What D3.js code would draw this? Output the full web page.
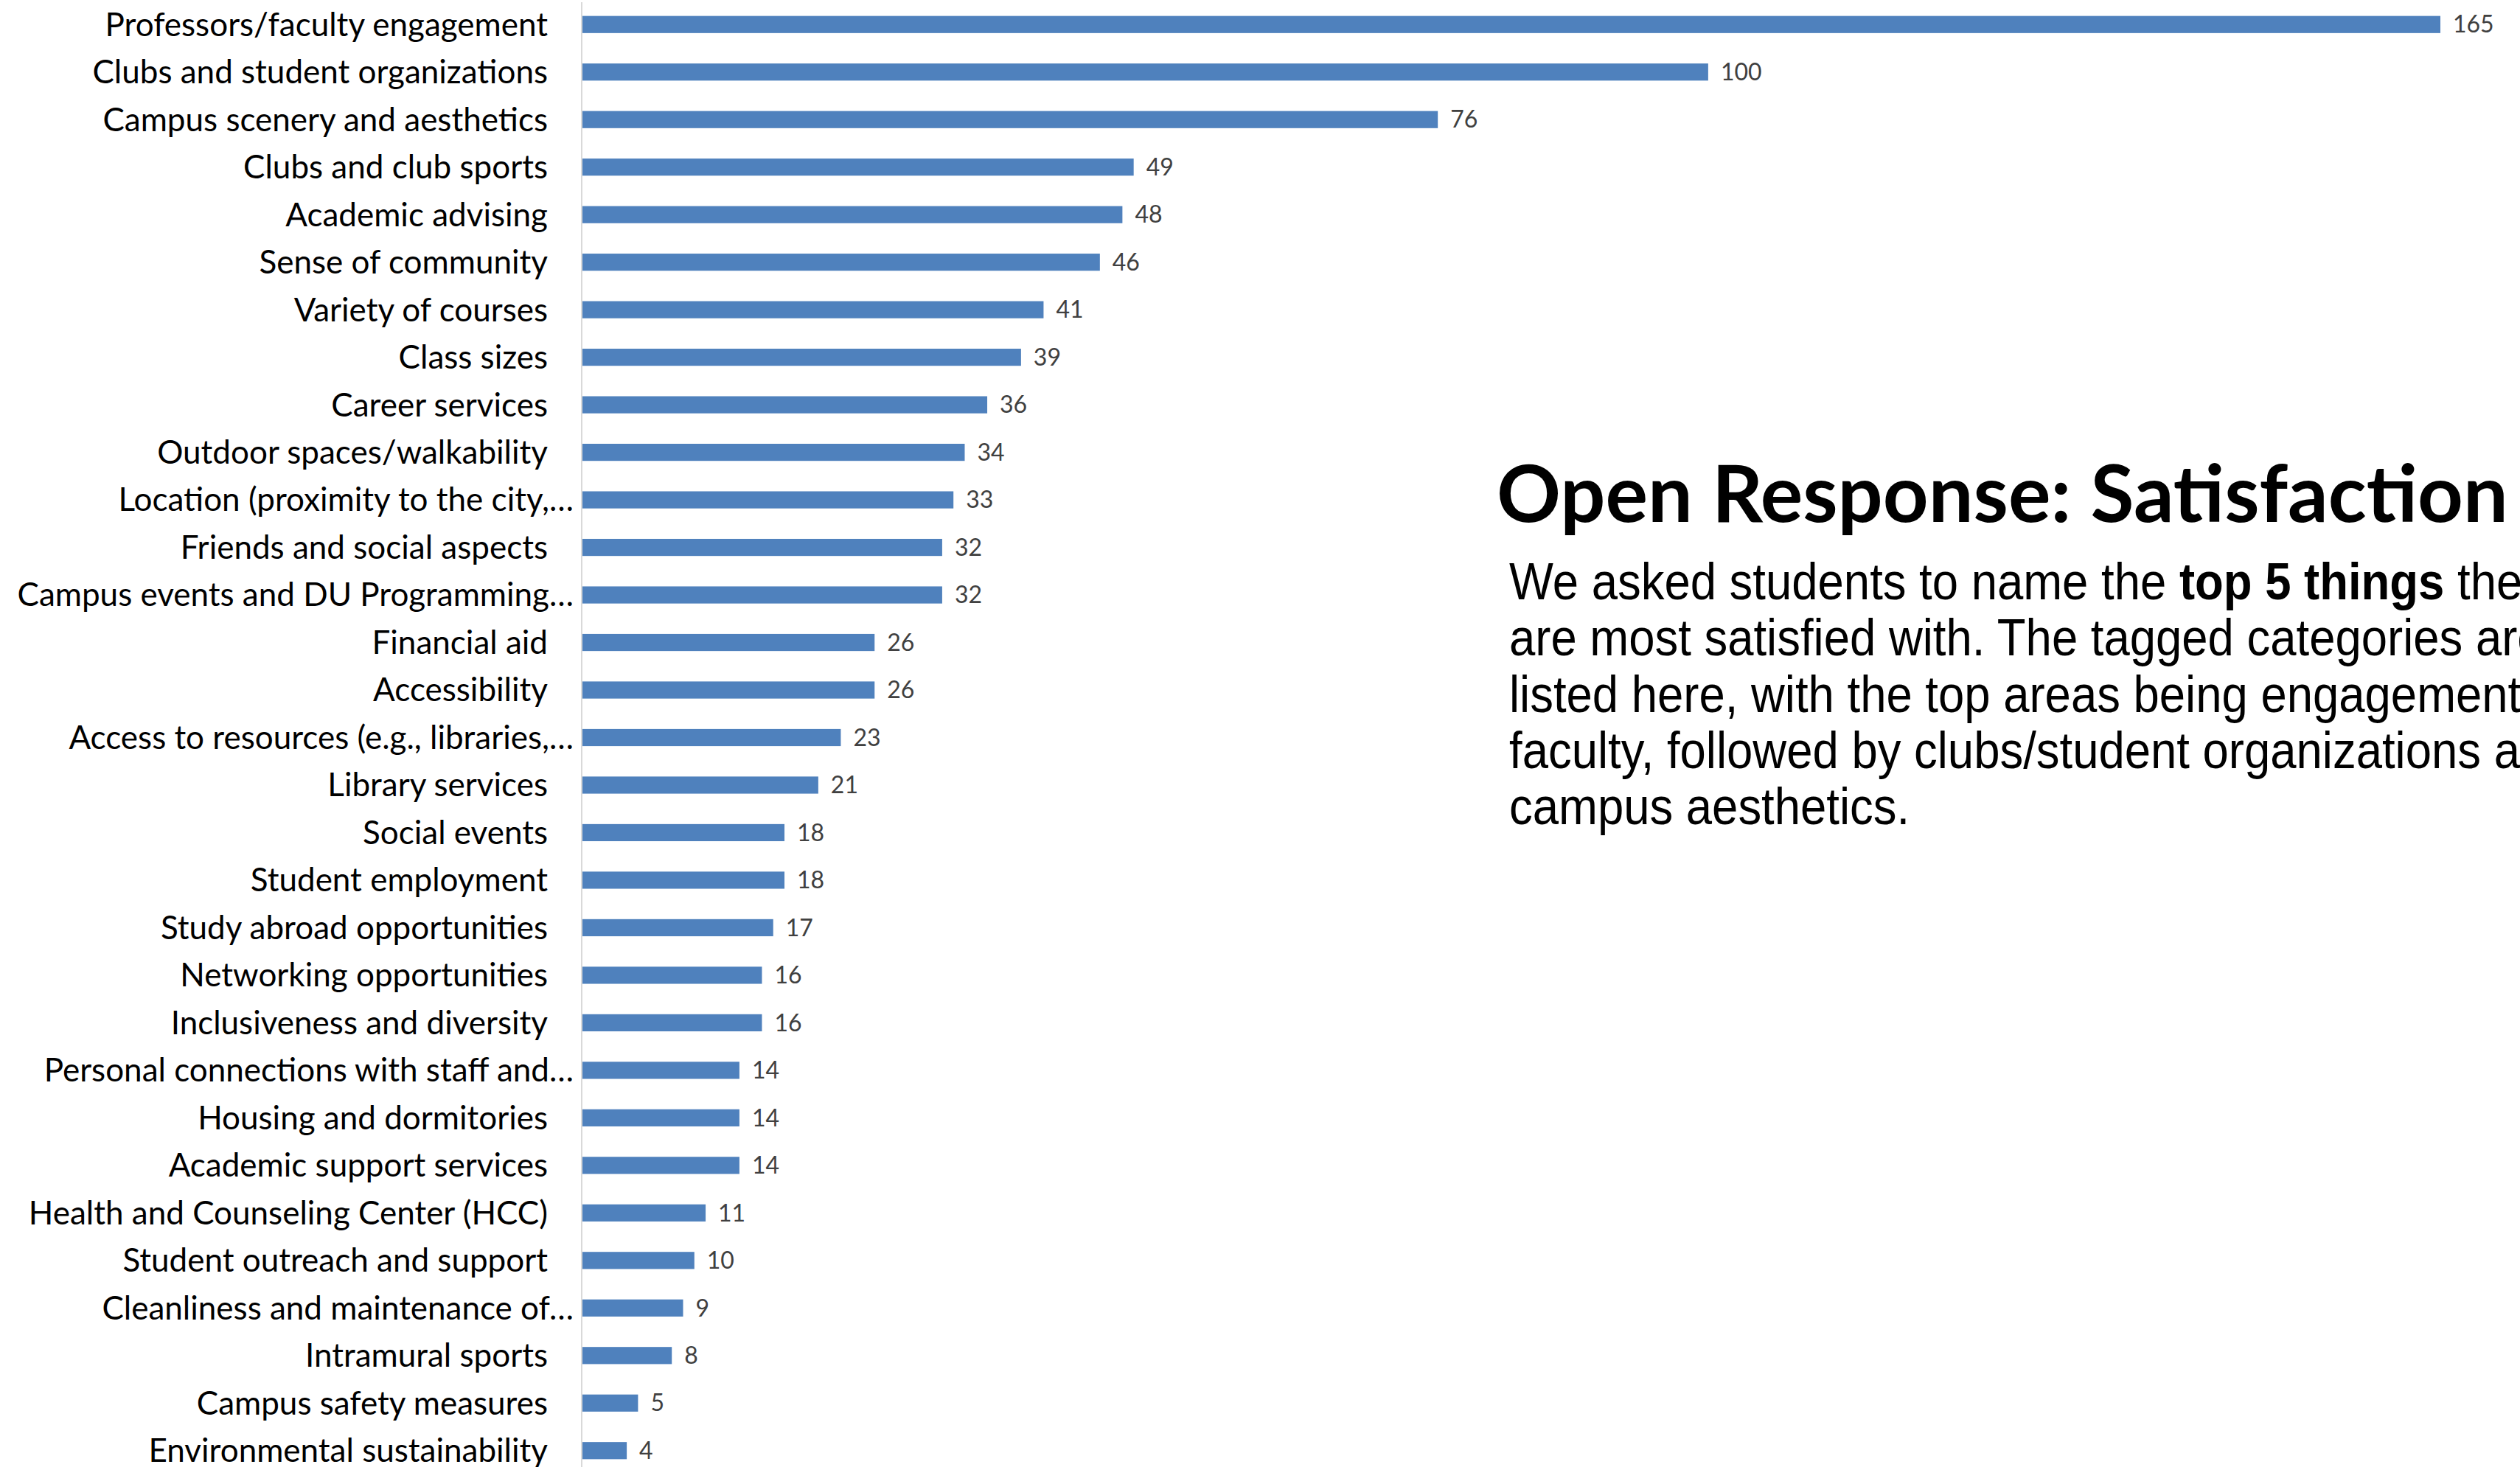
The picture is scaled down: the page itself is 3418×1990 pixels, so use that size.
<!DOCTYPE html>
<html>
<head>
<meta charset="utf-8">
<script src="https://cdn.jsdelivr.net/npm/d3@7"></script>
<style>
  body { margin: 0; background: #fff; overflow: hidden; }
  svg { display: block; }
</style>
</head>
<body>
<div id="chart"></div>
<script>
// categories, top to bottom
var categories = [
  "Professors/faculty engagement",
  "Clubs and student organizations",
  "Campus scenery and aesthetics",
  "Clubs and club sports",
  "Academic advising",
  "Sense of community",
  "Variety of courses",
  "Class sizes",
  "Career services",
  "Outdoor spaces/walkability",
  "Location (proximity to the city,…",
  "Friends and social aspects",
  "Campus events and DU Programming…",
  "Financial aid",
  "Accessibility",
  "Access to resources (e.g., libraries,…",
  "Library services",
  "Social events",
  "Student employment",
  "Study abroad opportunities",
  "Networking opportunities",
  "Inclusiveness and diversity",
  "Personal connections with staff and…",
  "Housing and dormitories",
  "Academic support services",
  "Health and Counseling Center (HCC)",
  "Student outreach and support",
  "Cleanliness and maintenance of…",
  "Intramural sports",
  "Campus safety measures",
  "Environmental sustainability"
];
var counts = [165, 100, 76, 49, 48, 46, 41, 39, 36, 34, 33, 32, 32, 26, 26, 23, 21, 18, 18, 17, 16, 16, 14, 14, 14, 11, 10, 9, 8, 5, 4];

var titleText = "Open Response: Satisfaction";
var bodyLines = [
  [["We asked students to name the ", false], ["top 5 things", true], [" they", false]],
  [["are most satisfied with. The tagged categories are", false]],
  [["listed here, with the top areas being engagement with", false]],
  [["faculty, followed by clubs/student organizations and", false]],
  [["campus aesthetics.", false]]
];

var svgWidth = 3418;
var svgHeight = 1990;

var svg = d3.select("#chart")
  .append("svg")
  .attr("width", svgWidth)
  .attr("height", svgHeight);

var data = categories.map(function (c, i) { return { name: c, value: counts[i] }; });

// scales
var xScale = d3.scaleLinear()
  .domain([0, 165])
  .range([789, 3310]);

var yScale = d3.scaleBand()
  .domain(categories)
  .range([1, 2000])
  .paddingInner(0.64)
  .paddingOuter(0.32);

// bars
svg.append("g")
  .selectAll("rect")
  .data(data)
  .enter()
  .append("rect")
  .attr("x", xScale(0))
  .attr("y", d => yScale(d.name))
  .attr("width", d => xScale(d.value) - xScale(0))
  .attr("height", yScale.bandwidth())
  .attr("fill", "#4f81bd");

// vertical axis line
svg.append("line")
  .attr("x1", xScale(0)).attr("x2", xScale(0))
  .attr("y1", 3).attr("y2", svgHeight)
  .attr("stroke", "#d9d9d9")
  .attr("stroke-width", 2);

// category labels (Excel truncated ones sit closer to the axis)
svg.append("g")
  .selectAll("text")
  .data(data)
  .enter()
  .append("text")
  .attr("x", d => d.name.endsWith("…") ? xScale(0) - 11 : xScale(0) - 46)
  .attr("y", d => yScale(d.name) + yScale.bandwidth() / 2)
  .attr("dy", "0.35em")
  .attr("text-anchor", "end")
  .style("font-family", "Lato, 'Open Sans', sans-serif")
  .style("font-size", "44px")
  .style("fill", "#000")
  .text(d => d.name);

// value labels
svg.append("g")
  .selectAll("text")
  .data(data)
  .enter()
  .append("text")
  .attr("x", d => xScale(d.value) + 17)
  .attr("y", d => yScale(d.name) + yScale.bandwidth() / 2)
  .attr("dy", "0.35em")
  .style("font-family", "Lato, 'Open Sans', sans-serif")
  .style("font-size", "32px")
  .style("fill", "#404040")
  .text(d => d.value);

// title, sized to the reference width
var title = svg.append("text")
  .attr("x", 2030)
  .attr("y", 708)
  .style("font-family", "Lato, 'DejaVu Sans', sans-serif")
  .style("font-weight", "700")
  .style("font-size", "100px")
  .style("fill", "#000")
  .text(titleText);
var tw = title.node().getComputedTextLength();
title.style("font-size", (100 * 1372 / tw) + "px");

// body text, narrow Arial-like look
var body = svg.append("g").attr("transform", "translate(2047,0)");
var bodyText = body.append("text")
  .style("font-family", "'Liberation Sans', Arial, sans-serif")
  .style("font-size", "70px")
  .style("fill", "#000");
bodyLines.forEach(function (line, i) {
  line.forEach(function (part, j) {
    var t = bodyText.append("tspan").text(part[0]);
    if (j === 0) t.attr("x", 0).attr("y", 813 + i * 76.3);
    if (part[1]) t.style("font-weight", "700");
  });
});
// squeeze horizontally: "listed here, with the top areas being engagemen" spans ~1355px in reference
var probe = body.append("text")
  .style("font-family", "'Liberation Sans', Arial, sans-serif")
  .style("font-size", "70px")
  .text("listed here, with the top areas being engagemen");
var pw = probe.node().getComputedTextLength();
probe.remove();
body.attr("transform", "translate(2047,0) scale(" + (1355 / pw) + ",1)");
</script>
</body>
</html>
